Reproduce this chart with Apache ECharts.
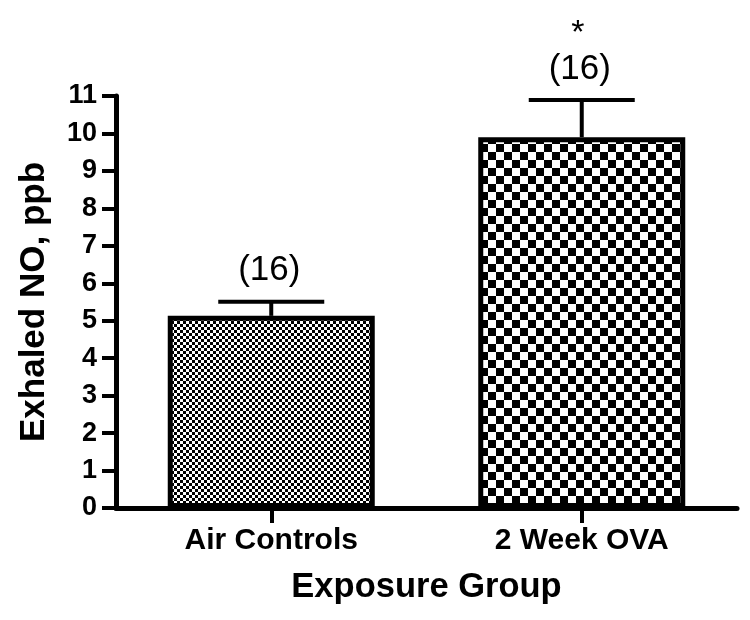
<!DOCTYPE html>
<html>
<head>
<meta charset="utf-8">
<script src="https://cdn.jsdelivr.net/npm/echarts@6/dist/echarts.min.js"></script>
<style>html,body{margin:0;padding:0;background:#fff;}#c{width:750px;height:620px;}</style>
</head>
<body>
<div id="c"></div>
<script>
const categories = ['Air Controls', '2 Week OVA'];
const meanValues = [5.13, 9.90];
const errorTops = [5.51, 10.89];
const nLabels = ['(16)', '(16)'];
const sigLabels = ['', '*'];
const yTicks = [0, 1, 2, 3, 4, 5, 6, 7, 8, 9, 10, 11];

function checker(size) {
  const c = document.createElement('canvas');
  c.width = size * 2; c.height = size * 2;
  const g = c.getContext('2d');
  g.fillStyle = '#fff'; g.fillRect(0, 0, size * 2, size * 2);
  g.fillStyle = '#000';
  g.fillRect(0, 0, size, size);
  g.fillRect(size, size, size, size);
  return c;
}
const patterns = [checker(3), checker(8)];

const chart = echarts.init(document.getElementById('c'), null, {renderer: 'canvas'});
const font = '"Liberation Sans", Arial, sans-serif';

chart.setOption({
  animation: false,
  backgroundColor: '#fff',
  grid: {left: 116, right: 13, top: 96, bottom: 112, containLabel: false, outerBoundsMode: 'none'},
  xAxis: {
    type: 'category',
    data: categories,
    boundaryGap: true,
    name: 'Exposure Group',
    nameLocation: 'middle',
    nameGap: 62,
    nameTextStyle: {fontFamily: font, fontWeight: 'bold', fontSize: 34.5, color: '#000'},
    axisLine: {lineStyle: {color: '#000', width: 5}},
    axisTick: {show: true, alignWithLabel: true, length: 15, lineStyle: {color: '#000', width: 4}},
    axisLabel: {fontFamily: font, fontWeight: 'bold', fontSize: 30, color: '#000', margin: 18},
    splitLine: {show: false}
  },
  yAxis: {
    type: 'value',
    min: yTicks[0],
    max: yTicks[yTicks.length - 1],
    interval: 1,
    name: 'Exhaled NO, ppb',
    nameLocation: 'middle',
    nameRotate: 90,
    nameGap: 64,
    nameTextStyle: {fontFamily: font, fontWeight: 'bold', fontSize: 35, color: '#000'},
    axisLine: {show: true, lineStyle: {color: '#000', width: 5}},
    axisTick: {show: true, length: 14, lineStyle: {color: '#000', width: 4}},
    axisLabel: {fontFamily: font, fontWeight: 'bold', fontSize: 27, color: '#000', margin: 19},
    splitLine: {show: false}
  },
  series: [
    {
      type: 'bar',
      barWidth: 207,
      data: meanValues.map((v, i) => ({
        value: v,
        itemStyle: {
          color: {image: patterns[i], repeat: 'repeat'},
          borderColor: '#000',
          borderWidth: 5
        }
      })),
      z: 2
    },
    {
      type: 'custom',
      z: 3,
      data: meanValues.map((v, i) => [i, v, errorTops[i]]),
      renderItem: function (params, api) {
        const i = api.value(0);
        const base = api.coord([i, api.value(1)]);
        const top = api.coord([i, api.value(2)]);
        const half = 53;
        const children = [
          {type: 'line', shape: {x1: base[0], y1: base[1], x2: top[0], y2: top[1]}, style: {stroke: '#000', lineWidth: 4}},
          {type: 'line', shape: {x1: top[0] - half, y1: top[1], x2: top[0] + half, y2: top[1]}, style: {stroke: '#000', lineWidth: 4}},
          {type: 'text', x: top[0] - 2, y: top[1] - 31, style: {text: nLabels[params.dataIndex], font: '35px ' + font, fill: '#000', align: 'center', verticalAlign: 'middle'}}
        ];
        const s = sigLabels[params.dataIndex];
        if (s) {
          children.push({type: 'text', x: top[0] - 4, y: top[1] - 66, style: {text: s, font: '34px ' + font, fill: '#000', align: 'center', verticalAlign: 'middle'}});
        }
        return {type: 'group', children: children};
      }
    }
  ]
});
</script>
</body>
</html>
